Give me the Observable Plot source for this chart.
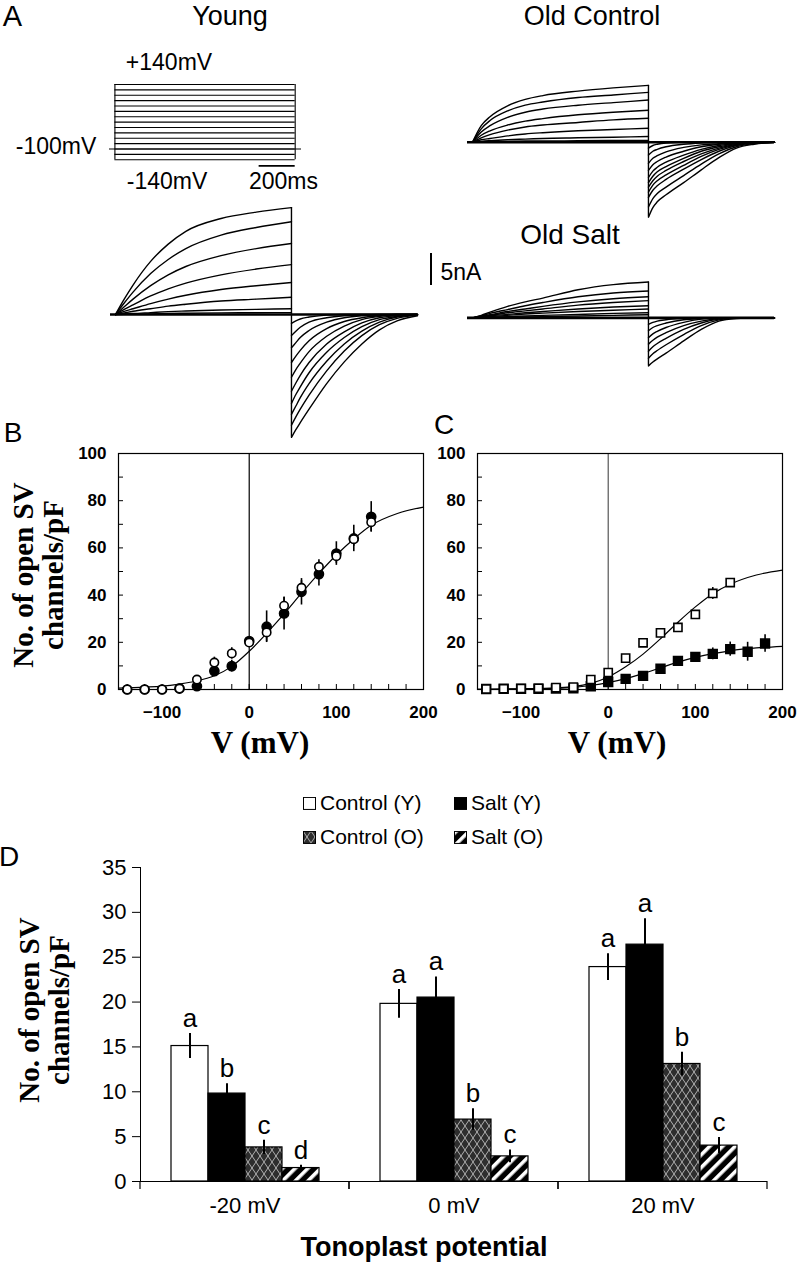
<!DOCTYPE html>
<html><head><meta charset="utf-8">
<script src="https://cdn.jsdelivr.net/npm/d3@7"></script>
<script src="https://cdn.jsdelivr.net/npm/@observablehq/plot@0.6"></script>
<style>
body{margin:0;background:#fff;}
#fig{position:relative;width:797px;height:1268px;overflow:hidden;background:#fff;font-family:"Liberation Sans",Arial,Helvetica,sans-serif;color:#000;}
.abs{position:absolute;}
.lbl{position:absolute;transform:translate(-50%,-50%);line-height:1.15;white-space:nowrap;}
.ytitle{position:absolute;transform:translate(-50%,-50%) rotate(-90deg);font-family:"Liberation Serif","Times New Roman",serif;font-weight:bold;font-size:29px;line-height:30px;text-align:center;white-space:nowrap;}
.leg{position:absolute;display:flex;align-items:center;font-size:21px;line-height:1.15;white-space:nowrap;transform:translateY(-50%);}
.leg svg{margin-right:4px;}
</style></head><body>
<svg width="0" height="0" style="position:absolute">
<defs>
<pattern id="crossO" patternUnits="userSpaceOnUse" width="8" height="12">
<rect width="8" height="12" fill="#2e2e2e"/>
<path d="M0,0 L8,12 M8,0 L0,12" stroke="#cfcfcf" stroke-width="0.8"/>
</pattern>
<pattern id="stripeO" patternUnits="userSpaceOnUse" width="9" height="9" patternTransform="rotate(45)">
<rect width="9" height="9" fill="#000"/>
<rect width="3.6" height="9" fill="#fff"/>
</pattern>
</defs>
</svg>
<div id="fig"></div>
<script>
// ---------------- Panel A: voltage protocol ----------------
const stepVoltages = [-140, -120, -100, -80, -60, -40, -20, 0, 20, 40, 60, 80, 100, 120, 140];
const holdingV = -100;
const scaleBarV = -163;
const pulseEnd = 1000;          // ms
const sweepStart = -28, sweepEnd = 1716;

// ---------------- Panel A: current traces (nA) ----------------
const actTimes = [0, 50, 100, 200, 300, 400, 600, 800, 1000];
const tailTimes = [1000, 1025, 1050, 1100, 1200, 1300, 1400, 1500, 1600, 1716];

const youngAct = [
  [0, 2.4, 4.6, 8.3, 11.0, 13.0, 15.0, 16.0, 16.7],
  [0, 1.8, 3.5, 6.4, 8.6, 10.3, 12.4, 13.6, 14.5],
  [0, 1.2, 2.4, 4.5, 6.2, 7.5, 9.2, 10.3, 11.1],
  [0, 0.8, 1.5, 2.9, 4.0, 4.9, 6.2, 7.1, 7.8],
  [0, 0.5, 0.9, 1.7, 2.4, 3.0, 3.9, 4.5, 5.0],
  [0, 0.25, 0.5, 0.9, 1.3, 1.6, 2.1, 2.4, 2.7],
  [0, 0.1, 0.15, 0.3, 0.45, 0.55, 0.7, 0.8, 0.9],
  [0, 0.03, 0.05, 0.1, 0.15, 0.2, 0.25, 0.28, 0.3]
];
const youngTail = [
  [-19.2, -18.0, -16.9, -14.8, -10.8, -7.4, -4.6, -2.4, -1.0, -0.2],
  [-17.3, -16.0, -14.8, -12.6, -8.8, -5.7, -3.3, -1.6, -0.6, -0.1],
  [-15.6, -14.3, -13.0, -10.8, -7.3, -4.6, -2.6, -1.2, -0.4, -0.1],
  [-13.9, -12.5, -11.3, -9.1, -5.9, -3.6, -1.9, -0.8, -0.3, 0],
  [-12.0, -10.7, -9.5, -7.5, -4.6, -2.7, -1.3, -0.5, -0.2, 0],
  [-9.8, -8.6, -7.6, -5.8, -3.4, -1.8, -0.8, -0.3, -0.1, 0],
  [-7.5, -6.5, -5.6, -4.1, -2.2, -1.1, -0.5, -0.2, 0, 0],
  [-5.2, -4.4, -3.6, -2.5, -1.2, -0.5, -0.2, -0.1, 0, 0],
  [-3.3, -2.6, -2.0, -1.2, -0.5, -0.2, -0.1, 0, 0, 0],
  [-1.4, -1.0, -0.7, -0.4, -0.1, 0, 0, 0, 0, 0]
];
const oldControlAct = [
  [0, 2.6, 4.0, 5.7, 6.7, 7.3, 8.0, 8.5, 8.9],
  [0, 2.1, 3.4, 4.9, 5.8, 6.3, 7.0, 7.4, 7.8],
  [0, 1.6, 2.6, 3.9, 4.7, 5.2, 5.8, 6.2, 6.6],
  [0, 1.1, 1.8, 2.7, 3.3, 3.7, 4.3, 4.7, 5.0],
  [0, 0.7, 1.2, 1.9, 2.4, 2.7, 3.1, 3.5, 3.75],
  [0, 0.4, 0.6, 1.0, 1.3, 1.5, 1.8, 2.0, 2.2],
  [0, 0.15, 0.25, 0.4, 0.5, 0.6, 0.7, 0.8, 0.9],
  [0, 0.05, 0.1, 0.15, 0.2, 0.2, 0.25, 0.3, 0.3]
];
const oldControlTail = [
  [-11.7, -10.2, -9.3, -8.2, -6.3, -4.3, -2.4, -0.9, -0.3, 0],
  [-10.1, -8.8, -8.0, -7.0, -5.2, -3.4, -1.8, -0.7, -0.2, 0],
  [-8.6, -7.5, -6.8, -5.8, -4.2, -2.7, -1.4, -0.5, -0.1, 0],
  [-7.8, -6.7, -6.0, -5.1, -3.6, -2.2, -1.1, -0.4, -0.1, 0],
  [-7.0, -6.0, -5.3, -4.4, -3.0, -1.8, -0.9, -0.3, 0, 0],
  [-6.3, -5.3, -4.6, -3.8, -2.5, -1.4, -0.7, -0.2, 0, 0],
  [-5.5, -4.5, -3.9, -3.1, -2.0, -1.1, -0.5, -0.2, 0, 0],
  [-4.4, -3.5, -3.0, -2.3, -1.4, -0.7, -0.3, -0.1, 0, 0],
  [-3.3, -2.5, -2.1, -1.5, -0.8, -0.4, -0.2, 0, 0, 0],
  [-2.0, -1.4, -1.1, -0.7, -0.3, -0.1, 0, 0, 0, 0],
  [-0.9, -0.5, -0.3, -0.1, 0, 0, 0, 0, 0, 0]
];
const oldSaltAct = [
  [0, 0.4, 0.9, 1.8, 2.5, 3.1, 4.4, 5.2, 5.6],
  [0, 0.3, 0.7, 1.3, 1.9, 2.4, 3.3, 3.9, 4.2],
  [0, 0.25, 0.5, 1.0, 1.4, 1.8, 2.5, 3.0, 3.3],
  [0, 0.2, 0.4, 0.8, 1.1, 1.4, 2.0, 2.4, 2.7],
  [0, 0.15, 0.3, 0.55, 0.8, 1.0, 1.4, 1.7, 1.9],
  [0, 0.1, 0.2, 0.4, 0.6, 0.75, 1.0, 1.2, 1.4],
  [0, 0.05, 0.1, 0.2, 0.3, 0.4, 0.55, 0.7, 0.8],
  [0, 0.02, 0.05, 0.1, 0.15, 0.2, 0.3, 0.4, 0.5]
];
const oldSaltTail = [
  [-7.5, -6.9, -6.4, -5.5, -3.6, -1.8, -0.5, -0.1, 0, 0],
  [-6.3, -5.6, -5.1, -4.2, -2.6, -1.2, -0.3, 0, 0, 0],
  [-5.2, -4.5, -4.0, -3.2, -1.8, -0.8, -0.2, 0, 0, 0],
  [-4.1, -3.5, -3.0, -2.3, -1.2, -0.5, -0.1, 0, 0, 0],
  [-3.1, -2.5, -2.1, -1.5, -0.7, -0.2, 0, 0, 0, 0],
  [-2.0, -1.5, -1.2, -0.8, -0.3, -0.1, 0, 0, 0, 0],
  [-1.0, -0.7, -0.5, -0.3, -0.1, 0, 0, 0, 0, 0]
];

// ---------------- Panel B: young (open = control, filled = salt) ----------------
const bVoltages = [-140, -120, -100, -80, -60, -40, -20, 0, 20, 40, 60, 80, 100, 120, 140];
const bControl = [0, 0, 0, 0.4, 4.2, 11.4, 15.3, 19.9, 24.2, 35.5, 43.1, 52.0, 56.5, 63.7, 70.9];
const bControlErr = [0, 0, 0, 0, 0.8, 2.3, 2.4, 1.5, 4.0, 3.5, 3.0, 3.0, 3.0, 3.0, 4.2];
const bSalt = [0, 0, 0, 0.4, 1.4, 7.8, 9.9, 20.5, 26.6, 32.2, 41.4, 48.9, 57.6, 64.0, 73.2];
const bSaltErr = [0, 0, 0, 0, 0.8, 1.5, 2.5, 1.5, 6.7, 7.0, 5.6, 5.0, 5.0, 5.6, 6.4];
const bFitV = [-150, -120, -100, -80, -60, -40, -20, 0, 20, 40, 60, 80, 100, 120, 140, 170, 200];
const bFit = [0.6, 1.0, 1.4, 2.3, 3.6, 5.8, 9.8, 16.2, 23.8, 32.0, 40.8, 49.2, 57.0, 63.8, 69.6, 74.6, 77.3];

// ---------------- Panel C: old (open = control, filled = salt) ----------------
const cControlV = [-140, -120, -100, -80, -60, -40, -20, 0, 20, 40, 60, 80, 100, 120, 140];
const cControl = [0.2, 0.3, 0.4, 0.5, 0.8, 1.0, 4.2, 7.2, 13.3, 19.8, 24.0, 26.3, 31.8, 40.7, 45.3];
const cControlErr = [0, 0, 0, 0, 0, 0, 0.5, 0.8, 1.0, 1.0, 1.5, 2.0, 1.5, 2.5, 1.5];
const cSaltV = [-140, -120, -100, -80, -60, -40, -20, 0, 20, 40, 60, 80, 100, 120, 140, 160, 180];
const cSalt = [0.2, 0.3, 0.3, 0.3, 0.4, 0.5, 1.4, 3.2, 4.5, 5.8, 8.8, 12.1, 13.8, 15.1, 17.1, 16.0, 19.5];
const cSaltErr = [0, 0, 0, 0, 0, 0, 0, 0.5, 0.5, 0.7, 0.8, 1.0, 1.5, 2.5, 3.0, 4.0, 3.7];
const cFitV = [-150, -100, -60, -40, -20, 0, 20, 40, 60, 80, 100, 120, 140, 170, 200];
const cFitControl = [0.1, 0.3, 0.7, 1.2, 2.6, 5.3, 9.6, 15.0, 21.5, 28.5, 35.0, 40.6, 44.6, 48.5, 50.6];
const cFitSalt = [0.05, 0.2, 0.5, 0.9, 1.7, 2.9, 4.6, 6.8, 9.2, 11.6, 13.6, 15.2, 16.4, 17.6, 18.3];

const ivMajorX = [-100, 0, 100, 200];
const ivMinorX = [-140, -120, -100, -80, -60, -40, -20, 0, 20, 40, 60, 80, 100, 120, 140, 160, 180];
const ivMajorY = [0, 20, 40, 60, 80, 100];
const ivMinorY = [10, 20, 30, 40, 50, 60, 70, 80, 90];

// ---------------- Panel D: bar chart ----------------
const potentials = ["-20 mV", "0 mV", "20 mV"];
const groups = ["Control (Y)", "Salt (Y)", "Control (O)", "Salt (O)"];
const meanControlY = [15.1, 19.8, 23.9];
const meanSaltY = [9.8, 20.5, 26.4];
const meanControlO = [3.8, 6.9, 13.1];
const meanSaltO = [1.5, 2.8, 4.0];
const errControlY = [1.4, 1.6, 1.5];
const errSaltY = [1.1, 2.3, 2.9];
const errControlO = [0.8, 1.2, 1.3];
const errSaltO = [0.3, 0.7, 0.9];
const lettersControlY = ["a", "a", "a"];
const lettersSaltY = ["b", "a", "a"];
const lettersControlO = ["c", "b", "b"];
const lettersSaltO = ["d", "c", "c"];
const dTicks = [0, 5, 10, 15, 20, 25, 30, 35];
const groupFills = ["white", "black", "url(#crossO)", "url(#stripeO)"];

// ---------------- helpers ----------------
const fig = document.getElementById("fig");
function place(node, left, top) {
  const d = document.createElement("div");
  d.className = "abs";
  d.style.left = left + "px";
  d.style.top = top + "px";
  d.appendChild(node);
  fig.appendChild(d);
}
function label(text, x, y, css) {
  const d = document.createElement("div");
  d.className = "lbl";
  d.textContent = text;
  d.style.left = x + "px";
  d.style.top = y + "px";
  d.style.cssText += css;
  fig.appendChild(d);
}
function ytitle(lines, x, y) {
  const d = document.createElement("div");
  d.className = "ytitle";
  d.innerHTML = lines.join("<br>");
  d.style.left = x + "px";
  d.style.top = y + "px";
  fig.appendChild(d);
}

// ---------------- Panel A drawing ----------------
const protocol = Plot.plot({
  width: 192, height: 82, margin: 0,
  x: {domain: [-30, 1035], axis: null},
  y: {domain: [-165, 140], axis: null},
  style: {overflow: "visible", background: "transparent"},
  marks: [
    Plot.ruleY(stepVoltages, {x1: 0, x2: pulseEnd, strokeWidth: 1.1}),
    Plot.ruleX([0, pulseEnd], {y1: d3.min(stepVoltages), y2: d3.max(stepVoltages), strokeWidth: 1.1}),
    Plot.ruleY([holdingV], {x1: -30, x2: 1035, strokeWidth: 1.1}),
    Plot.ruleY([scaleBarV], {x1: pulseEnd - 200, x2: pulseEnd, strokeWidth: 1.8})
  ]
});
place(protocol, 109, 84);

function tracePlot(act, tail, yDomain, left, top) {
  const actRows = act.flatMap((vals, i) => vals.map((v, j) => ({trace: i, t: actTimes[j], I: v})));
  const tailRows = tail.flatMap((vals, i) => vals.map((v, j) => ({trace: i, t: tailTimes[j], I: v})));
  const yMax = d3.max(act, a => d3.max(a));
  const yMin = d3.min(tail, a => d3.min(a));
  const pxPerNA = 6.4;
  const svg = Plot.plot({
    width: 307, height: (yDomain[1] - yDomain[0]) * pxPerNA, margin: 0,
    x: {domain: [sweepStart, sweepEnd], axis: null},
    y: {domain: yDomain, axis: null},
    style: {overflow: "visible", background: "transparent"},
    marks: [
      Plot.ruleY([0], {x1: sweepStart, x2: sweepEnd, strokeWidth: 2.6}),
      Plot.line(actRows, {x: "t", y: "I", z: "trace", curve: "monotone-x", strokeWidth: 1.4}),
      Plot.line(tailRows, {x: "t", y: "I", z: "trace", curve: "monotone-x", strokeWidth: 1.4}),
      Plot.ruleX([pulseEnd], {y1: yMin, y2: yMax, strokeWidth: 1.4})
    ]
  });
  place(svg, left, top);
}
tracePlot(youngAct, youngTail, [-20, 17.5], 110, 202);
tracePlot(oldControlAct, oldControlTail, [-12.5, 9.5], 467, 81.2);
tracePlot(oldSaltAct, oldSaltTail, [-8, 6], 467, 278.6);

// 5 nA scale bar
const bar5 = document.createElement("div");
bar5.className = "abs";
bar5.style.cssText += "left:430px;top:253px;width:0;height:32px;border-left:2px solid #000;";
fig.appendChild(bar5);

label("A", 12.5, 17, "font-size:29px;");
label("Young", 230, 17, "font-size:27px;");
label("Old Control", 592, 17, "font-size:27px;");
label("Old Salt", 570, 235, "font-size:28px;");
label("+140mV", 169, 61.5, "font-size:23px;");
label("-100mV", 56, 146, "font-size:23px;");
label("-140mV", 167, 180.5, "font-size:23px;");
label("200ms", 283.5, 180.5, "font-size:23px;");
label("5nA", 461, 272, "font-size:23px;");

// ---------------- Panels B and C ----------------
function rows(vs, ys, es) { return vs.map((v, i) => ({v, y: ys[i], e: es ? es[i] : 0})); }
function ivPlot(zeroColor, fitSets, filled, open, marker) {
  const errMarks = [filled, open].map(s => Plot.ruleX(s.filter(d => d.e > 0), {x: "v", y1: d => d.y - d.e, y2: d => d.y + d.e, strokeWidth: 1.6}));
  return Plot.plot({
    width: 380, height: 291, marginLeft: 60, marginRight: 15, marginTop: 15, marginBottom: 40,
    x: {domain: [-150, 200]},
    y: {domain: [0, 100]},
    style: {overflow: "visible", background: "transparent", fontFamily: "'Liberation Sans', Arial, sans-serif", fontWeight: "bold", fontSize: "17px", color: "#000"},
    marks: [
      Plot.ruleX([0], {stroke: zeroColor, strokeWidth: 1.2}),
      Plot.frame({stroke: "#000", strokeWidth: 1.2}),
      Plot.axisX({ticks: ivMajorX, tickSize: 0, tickPadding: 16, label: null}),
      Plot.axisX({ticks: ivMinorX, tickSize: -5, tickFormat: () => "", label: null}),
      Plot.axisY({ticks: ivMajorY, tickSize: 0, tickPadding: 12, label: null}),
      Plot.axisY({ticks: ivMinorY, tickSize: -5, tickFormat: () => "", label: null}),
      ...fitSets.map(f => Plot.line(f, {x: "v", y: "y", curve: "monotone-x", strokeWidth: 1.2})),
      ...errMarks,
      Plot.dot(filled, {x: "v", y: "y", symbol: marker, r: marker === "square" ? 5 : 4.6, fill: "#000", stroke: "#000"}),
      Plot.dot(open, {x: "v", y: "y", symbol: marker, r: marker === "square" ? 4.6 : 4.2, fill: "#fff", stroke: "#000", strokeWidth: 1.6})
    ]
  });
}
place(ivPlot("#000", [rows(bFitV, bFit)], rows(bVoltages, bSalt, bSaltErr), rows(bVoltages, bControl, bControlErr), "circle"), 58, 438);
place(ivPlot("#555", [rows(cFitV, cFitControl), rows(cFitV, cFitSalt)], rows(cSaltV, cSalt, cSaltErr), rows(cControlV, cControl, cControlErr), "square"), 417, 438);

label("B", 13, 433, "font-size:28px;");
label("C", 444, 425, "font-size:28px;");
ytitle(["No. of open SV", "channels/pF"], 38, 575);
label("V (mV)", 260, 743, "font-family:'Liberation Serif','Times New Roman',serif;font-weight:bold;font-size:31px;");
label("V (mV)", 617, 743, "font-family:'Liberation Serif','Times New Roman',serif;font-weight:bold;font-size:31px;");

// ---------------- Panel D ----------------
const means = [meanControlY, meanSaltY, meanControlO, meanSaltO];
const errs = [errControlY, errSaltY, errControlO, errSaltO];
const letters = [lettersControlY, lettersSaltY, lettersControlO, lettersSaltO];
const barRows = potentials.flatMap((p, i) => groups.map((g, j) => ({p, g, v: means[j][i], e: errs[j][i], l: letters[j][i]})));

function groupEdgeTicks(index, scales) {
  const [r0, r1] = scales.x.range();
  const y0 = scales.y(0);
  const g = d3.create("svg:g").attr("stroke", "#000").attr("stroke-width", 1.2);
  for (const x of [r0, r1]) g.append("line").attr("x1", x).attr("x2", x).attr("y1", y0).attr("y2", y0 + 8);
  return g.node();
}

const dPlot = Plot.plot({
  width: 797, height: 381, marginLeft: 140, marginRight: 30, marginTop: 17, marginBottom: 50,
  fx: {domain: potentials, padding: 0, label: null, axis: "bottom", tickSize: 0, tickPadding: 16},
  x: {domain: groups, axis: null, paddingInner: 0, paddingOuter: 0.76},
  y: {domain: [0, 35], ticks: dTicks, tickSize: 8, tickPadding: 6, label: null, line: true},
  color: {type: "ordinal", domain: groups, range: groupFills},
  style: {overflow: "visible", background: "transparent", fontFamily: "'Liberation Sans', Arial, sans-serif", fontSize: "22px", color: "#000"},
  marks: [
    Plot.barY(barRows, {fx: "p", x: "g", y: "v", fill: "g", stroke: "#000", strokeWidth: 1.2}),
    Plot.ruleX(barRows, {fx: "p", x: "g", y1: d => d.v - d.e, y2: d => d.v + d.e, strokeWidth: 2}),
    Plot.text(barRows, {fx: "p", x: "g", y: d => d.v + d.e, text: "l", dy: -15, fontSize: 26}),
    Plot.ruleY([0], {strokeWidth: 1.2}),
    groupEdgeTicks
  ]
});
place(dPlot, 0, 850);

label("D", 9, 857, "font-size:28px;");
ytitle(["No. of open SV", "channels/pF"], 44, 1010);
label("Tonoplast potential", 424, 1248, "font-size:27px;font-weight:bold;");

// legend
function swatch(fill) {
  return `<svg width="13" height="13"><rect x="0.5" y="0.5" width="12" height="12" fill="${fill}" stroke="#000" stroke-width="1"/></svg>`;
}
const legendPos = [[303, 803], [454, 803], [303, 837], [454, 837]];
groups.forEach((g, i) => {
  const d = document.createElement("div");
  d.className = "leg";
  d.style.left = legendPos[i][0] + "px";
  d.style.top = legendPos[i][1] + "px";
  d.innerHTML = swatch(groupFills[i]) + `<span>${g}</span>`;
  fig.appendChild(d);
});
</script>
</body></html>
